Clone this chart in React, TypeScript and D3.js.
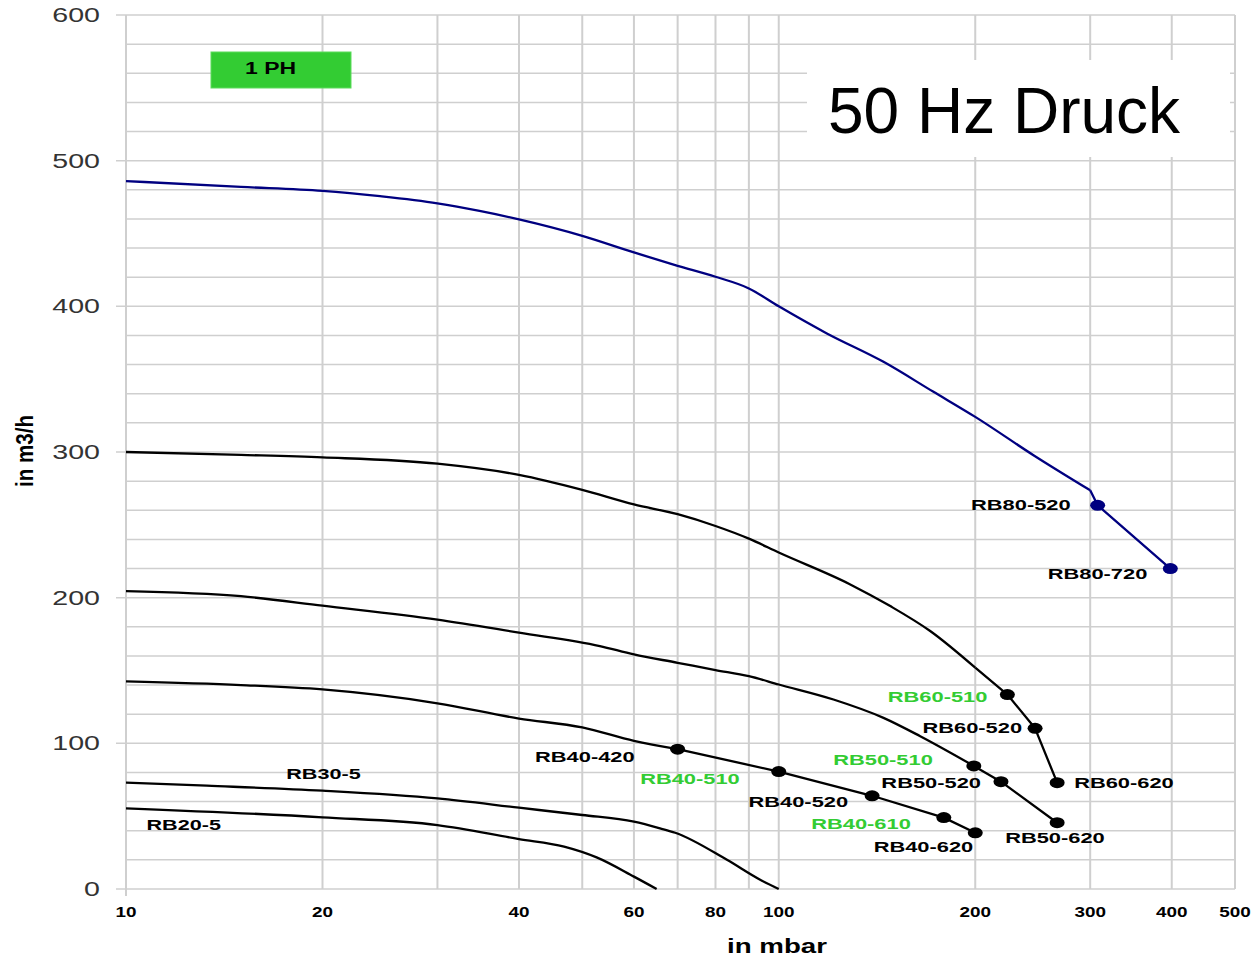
import React, { useEffect, useRef } from 'react';
import * as d3 from 'd3';

// Kennlinien: [Druck in mbar, Volumenstrom in m3/h]
const rb80 = [
  [10, 486], [15, 482], [20, 479.3], [24.5, 475.6], [30, 470.7], [34.8, 465.5], [40, 459.7],
  [50, 448.4], [60, 437], [70, 427.8], [80, 420.3], [90, 412.3], [100, 400], [118.5, 381.4],
  [144.7, 361.9], [172.6, 341.3], [200, 324.1], [245.6, 297.8], [300, 273.7], [308, 263.4], [398, 220],
];
const rb60 = [
  [10, 300], [15, 298], [20, 296.3], [30, 292], [40, 284.3], [50, 274], [60, 264], [70, 257.3],
  [80, 249.2], [90, 240.5], [100, 231], [128.7, 209.1], [148.2, 194.2], [170.6, 177.1],
  [200, 151.9], [224, 133.5], [247, 110.3], [267, 73],
];
const rb50 = [
  [10, 204.5], [15, 201], [20, 194.5], [30, 185], [40, 176], [53.2, 166.8], [60, 161],
  [70, 155.3], [80, 150.3], [90, 146.1], [100, 140.4], [121.3, 130.1], [144.7, 117.5],
  [164.7, 104.9], [199, 84.5], [219, 73.7], [267, 45.5],
];
const rb40 = [
  [10, 142.5], [15, 140], [20, 137], [30, 127.5], [40, 117], [50, 110.9], [60, 101.7],
  [70, 96], [100, 80.6], [139, 64], [179, 49], [200, 38.6],
];
const rb30 = [
  [10, 73], [13.3, 70.9], [20, 67.5], [30, 62.2], [40, 55.8], [50, 50.8], [60, 46.2],
  [65.8, 41.6], [69.4, 38.6], [83.3, 20], [93.5, 6.5], [100, 0],
];
const rb20 = [
  [10, 55.4], [20, 49.2], [30, 43.9], [40, 34.3], [46.9, 29.1], [52.6, 21.7], [60, 8.5], [65, 0],
];

const curves = [
  { id: 'rb80', points: rb80, color: '#000080' },
  { id: 'rb60', points: rb60, color: '#000' },
  { id: 'rb50', points: rb50, color: '#000' },
  { id: 'rb40', points: rb40, color: '#000' },
  { id: 'rb30', points: rb30, color: '#000' },
  { id: 'rb20', points: rb20, color: '#000' },
];

// from this pressure on the curve is drawn as straight segments between operating points
const straightFrom: Record<string, number> = { rb80: 300, rb60: 200, rb50: 199, rb40: 70, rb30: Infinity, rb20: Infinity };

// Betriebspunkte
const markerNames = ['RB80-520', 'RB80-720', 'RB60-510', 'RB60-520', 'RB60-620', 'RB50-510', 'RB50-520',
  'RB50-620', 'RB40-420', 'RB40-510', 'RB40-520', 'RB40-610', 'RB40-620'];
const markerMbar = [308, 398, 224, 247, 267, 199, 219, 267, 70, 100, 139, 179, 200];
const markerFlow = [263.4, 220, 133.5, 110.3, 73, 84.5, 73.7, 45.5, 96, 80.6, 64, 49, 38.6];

// freie Beschriftungen (Druck, Volumenstrom)
const freeLabels = [
  { text: 'RB30-5', mbar: 17.6, flow: 75.5 },
  { text: 'RB20-5', mbar: 10.75, flow: 40.5 },
];

const xTicks = [10, 20, 40, 60, 80, 100, 200, 300, 400, 500];
const xGrid = [10, 20, 30, 40, 50, 60, 70, 80, 90, 100, 200, 300, 400, 500];
const yTicks = [0, 100, 200, 300, 400, 500, 600];
const yGrid = d3.range(0, 601, 20);

// label placement relative to the marker: [anchor, dx, dy]
const labelLayout: Record<string, [string, number, number]> = {
  'RB80-520': ['end', -27, 5],
  'RB80-720': ['end', -23, 10],
  'RB60-510': ['end', -20, 7],
  'RB60-520': ['end', -13, 5],
  'RB60-620': ['start', 17, 5],
  'RB50-510': ['end', -41, -1],
  'RB50-520': ['end', -20, 6],
  'RB50-620': ['start', -52, 20],
  'RB40-420': ['end', -43, 13],
  'RB40-510': ['end', -39, 12],
  'RB40-520': ['end', -24, 11],
  'RB40-610': ['end', -33, 11],
  'RB40-620': ['end', -2, 19],
};

const FONT = "'Liberation Sans', Arial, sans-serif";
const GRID = '#cfcfcf';
const GREEN = '#3c3';

const App = () => {
  const ref = useRef<SVGSVGElement>(null);

  useEffect(() => {
    const svg = d3.select(ref.current);
    svg.selectAll('*').remove();

    const x = d3.scaleLog().domain([10, 500]).range([126, 1235]);
    const y = d3.scaleLinear().domain([0, 600]).range([889, 15]);

    // grid
    svg.append('g').selectAll('line').data(yGrid).enter().append('line')
      .attr('x1', d => (d % 100 === 0 ? 116 : x(10)))
      .attr('x2', x(500))
      .attr('y1', d => y(d)).attr('y2', d => y(d))
      .attr('stroke', GRID).attr('stroke-width', 1.5);

    svg.append('g').selectAll('line').data(xGrid).enter().append('line')
      .attr('x1', d => x(d)).attr('x2', d => x(d))
      .attr('y1', y(600)).attr('y2', d => (d === 10 ? 896 : y(0)))
      .attr('stroke', GRID).attr('stroke-width', 2);

    // y tick labels
    svg.append('g').selectAll('text').data(yTicks).enter().append('text')
      .attr('x', 100).attr('y', d => y(d) + 7)
      .attr('text-anchor', 'end')
      .attr('font-family', FONT).attr('font-size', 20).attr('fill', '#333')
      .attr('textLength', d => String(d).length * 15.9).attr('lengthAdjust', 'spacingAndGlyphs')
      .text(d => d);

    // x tick labels
    svg.append('g').selectAll('text').data(xTicks).enter().append('text')
      .attr('x', d => x(d)).attr('y', 917)
      .attr('text-anchor', 'middle')
      .attr('font-family', FONT).attr('font-size', 14).attr('font-weight', 'bold').attr('fill', '#000')
      .attr('textLength', d => String(d).length * 10.5).attr('lengthAdjust', 'spacingAndGlyphs')
      .text(d => d);

    // axis titles
    svg.append('text')
      .attr('transform', 'translate(33,451) rotate(-90)')
      .attr('text-anchor', 'middle')
      .attr('font-family', FONT).attr('font-size', 23).attr('font-weight', 'bold')
      .attr('textLength', 72).attr('lengthAdjust', 'spacingAndGlyphs')
      .text('in m3/h');

    svg.append('text')
      .attr('x', 777).attr('y', 953)
      .attr('text-anchor', 'middle')
      .attr('font-family', FONT).attr('font-size', 20).attr('font-weight', 'bold')
      .attr('textLength', 100).attr('lengthAdjust', 'spacingAndGlyphs')
      .text('in mbar');

    // 1 PH box
    svg.append('rect')
      .attr('x', 211).attr('y', 52).attr('width', 140).attr('height', 36)
      .attr('fill', '#33cc33').attr('stroke', '#5ddc5d').attr('stroke-width', 1);
    svg.append('text')
      .attr('x', 270.5).attr('y', 74)
      .attr('text-anchor', 'middle')
      .attr('font-family', FONT).attr('font-size', 16).attr('font-weight', 'bold')
      .attr('textLength', 51).attr('lengthAdjust', 'spacingAndGlyphs')
      .text('1 PH');

    // title box
    svg.append('rect')
      .attr('x', 807).attr('y', 60).attr('width', 423).attr('height', 97)
      .attr('fill', '#fff');
    svg.append('text')
      .attr('x', 828).attr('y', 133)
      .attr('font-family', FONT).attr('font-size', 64).attr('fill', '#000')
      .text('50 Hz Druck');

    // curves: smooth part + straight tail through the operating points
    const smooth = d3.line<number[]>()
      .x(d => x(d[0]))
      .y(d => y(d[1]))
      .curve(d3.curveMonotoneX);
    const straight = d3.line<number[]>()
      .x(d => x(d[0]))
      .y(d => y(d[1]));

    const g = svg.append('g');
    curves.forEach(c => {
      const cut = straightFrom[c.id];
      const head = c.points.filter(p => p[0] <= cut);
      const tail = c.points.filter(p => p[0] >= cut);
      g.append('path')
        .attr('d', smooth(head))
        .attr('fill', 'none').attr('stroke', c.color).attr('stroke-width', 2.3);
      if (tail.length > 1) {
        g.append('path')
          .attr('d', straight(tail))
          .attr('fill', 'none').attr('stroke', c.color).attr('stroke-width', 2.3)
          .attr('stroke-linejoin', 'round');
      }
    });

    // markers
    const pts = markerNames.map((name, i) => ({ name, mbar: markerMbar[i], flow: markerFlow[i] }));

    svg.append('g').selectAll('ellipse').data(pts).enter().append('ellipse')
      .attr('cx', d => x(d.mbar)).attr('cy', d => y(d.flow))
      .attr('rx', 7.5).attr('ry', 5.5)
      .attr('fill', d => (d.name.startsWith('RB80') ? '#000080' : '#000'));

    svg.append('g').selectAll('text').data(pts).enter().append('text')
      .attr('x', d => x(d.mbar) + labelLayout[d.name][1])
      .attr('y', d => y(d.flow) + labelLayout[d.name][2])
      .attr('text-anchor', d => labelLayout[d.name][0])
      .attr('font-family', FONT).attr('font-size', 15).attr('font-weight', 'bold')
      .attr('fill', d => (/-(510|610)$/.test(d.name) ? GREEN : '#000'))
      .attr('textLength', d => d.name.length * 12.45).attr('lengthAdjust', 'spacingAndGlyphs')
      .text(d => d.name);

    svg.append('g').selectAll('text').data(freeLabels).enter().append('text')
      .attr('x', d => x(d.mbar)).attr('y', d => y(d.flow))
      .attr('font-family', FONT).attr('font-size', 15).attr('font-weight', 'bold')
      .attr('textLength', d => d.text.length * 12.4).attr('lengthAdjust', 'spacingAndGlyphs')
      .text(d => d.text);
  }, []);

  return (
    <div style={{ position: 'absolute', left: 0, top: 0 }}>
      <svg ref={ref} width={1254} height={958} style={{ display: 'block', background: '#fff' }} />
    </div>
  );
};

export default App;
